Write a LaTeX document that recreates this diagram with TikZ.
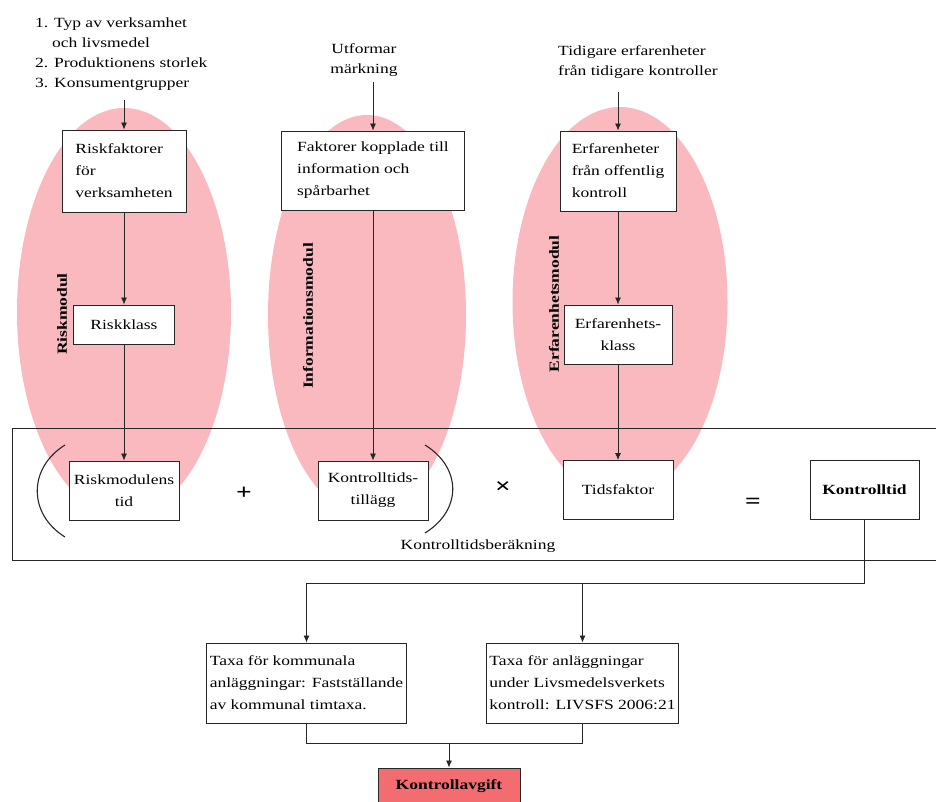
\documentclass[tikz,border=0pt]{standalone}
\usepackage{fontspec}
\setmainfont{Liberation Serif}[FakeStretch=1.25]
\usetikzlibrary{shapes,arrows.meta,positioning}
\definecolor{modpink}{RGB}{249,185,190}
\definecolor{feered}{RGB}{242,108,112}
\tikzset{basic/.style={draw=black!85,line width=0.9pt,fill=white,font=\fontsize{14}{22}\selectfont}}
\tikzset{factor/.style={basic,rectangle,align=left}}
\tikzset{term/.style={basic,rectangle,align=center,minimum width=110pt,minimum height=59pt}}
\tikzset{module/.style={ellipse,fill=modpink,draw=none,inner sep=0pt}}
\tikzset{modname/.style={rotate=90,font=\fontsize{14}{16}\selectfont\bfseries}}
\tikzset{source/.style={inner sep=0pt,font=\fontsize{14}{20}\selectfont}}
\tikzset{arrow/.style={draw=black!85,line width=0.8pt}}
\tikzset{op/.style={font=\fontsize{22}{22}\selectfont\bfseries}}

\begin{document}
\begin{tikzpicture}[x=1pt,y=-1pt,>={Latex[length=7pt,width=6pt]}]
    \useasboundingbox (0,0) rectangle (936,801);

    % modules
    \node[module,minimum width=214pt,minimum height=408pt] (riskmod) at (124,312) {};
    \node[module,minimum width=198pt,minimum height=400pt] (infomod) at (367,315) {};
    \node[module,minimum width=215pt,minimum height=390pt] (erfmod) at (620,302) {};
    \node[modname] (riskname) at (62,314) {Riskmodul};
    \node[modname] (infoname) at (308,316) {Informationsmodul};
    \node[modname] (erfname) at (554,304) {Erfarenhetsmodul};

    % calculation frame
    \node[draw=black!85,line width=0.9pt,minimum width=925pt,minimum height=132pt] (calc) at (474.5,494) {};
    \node[font=\fontsize{14}{16}\selectfont] (calcname) at (478,546) {Kontrolltidsberäkning};

    % inputs
    \node[source,align=left,anchor=north west] (in1) at (35,18) {1. Typ av verksamhet\\\hspace*{17pt}och livsmedel\\2. Produktionens storlek\\3. Konsumentgrupper};
    \node[source,align=center,anchor=north] (in2) at (364,43) {Utformar\\märkning};
    \node[source,align=left,anchor=north west] (in3) at (558,45) {Tidigare erfarenheter\\från tidigare kontroller};

    \node[factor,minimum width=124pt,minimum height=82pt] (rf) at (124,171) {Riskfaktorer\\för\\verksamheten};
    \node[term,minimum width=101pt,minimum height=39pt,below of=rf,node distance=153.5pt] (rk) {Riskklass};
    \node[term,below of=rk,node distance=166pt] (rt) {Riskmodulens\\tid};

    \node[factor,minimum width=183pt,minimum height=79pt] (fk) at (373,170.5) {Faktorer kopplade till\\information och\\spårbarhet};
    \node[term,below of=fk,node distance=320pt] (kt) {Kontrolltids-\\tillägg};

    \node[factor,minimum width=116pt,minimum height=80pt] (ef) at (618,171) {Erfarenheter\\från offentlig\\kontroll};
    \node[term,minimum width=108pt,below of=ef,node distance=163.5pt] (ek) {Erfarenhets-\\klass};
    \node[term,below of=ek,node distance=155.5pt] (tf) {Tidsfaktor};
    \node[term,minimum width=109pt,right of=tf,node distance=246.5pt,font=\fontsize{14}{22}\selectfont\bfseries] (ktid) {Kontrolltid};

    \node[op] (plus) at (244,493) {+};
    \node[op] (times) at (503,488) {×};
    \node[op] (equals) at (753,503) {=};
    \draw[arrow,line width=1.1pt] (65,445) .. controls (28,468) and (28,514) .. (65,537);
    \draw[arrow,line width=1.1pt] (425,445) .. controls (462,468) and (462,510) .. (425,533);

    % fees
    \node[factor,minimum width=197pt,minimum height=80pt] (tk) at (306.5,683) {Taxa för kommunala\\anläggningar: Fastställande\\av kommunal timtaxa.};
    \node[factor,minimum width=181pt,minimum height=80pt] (ta) at (582.5,683) {Taxa för anläggningar\\under Livsmedelsverkets\\kontroll: LIVSFS 2006:21};
    \node[basic,fill=feered,minimum width=142pt,minimum height=36pt,font=\fontsize{14}{16}\selectfont\bfseries] (ka) at (449,786) {Kontrollavgift};
    \coordinate (split) at (864.5,583);
    \coordinate (merge) at (449,743);

        \path[arrow,->,shorten <=9pt] (rf.north |- in1.south) -- (rf.north);
        \path[arrow,->] (rf) -- (rk);
        \path[arrow,->] (rk) -- (rt);
        \path[arrow,->,shorten <=6pt] (fk.north |- in2.south) -- (fk.north);
        \path[arrow,->] (fk) -- (kt);
        \path[arrow,->,shorten <=14pt] (ef.north |- in3.south) -- (ef.north);
        \path[arrow,->] (ef) -- (ek);
        \path[arrow,->] (ek) -- (tf);
        \path[arrow,->] (ktid.south) -- (split) -| (tk.north);
        \path[arrow,->] (split -| ta.north) -- (ta.north);
        \path[arrow] (tk.south) |- (merge) -| (ta.south);
        \path[arrow,->] (merge) -- (ka.north);
\end{tikzpicture}
\end{document}
